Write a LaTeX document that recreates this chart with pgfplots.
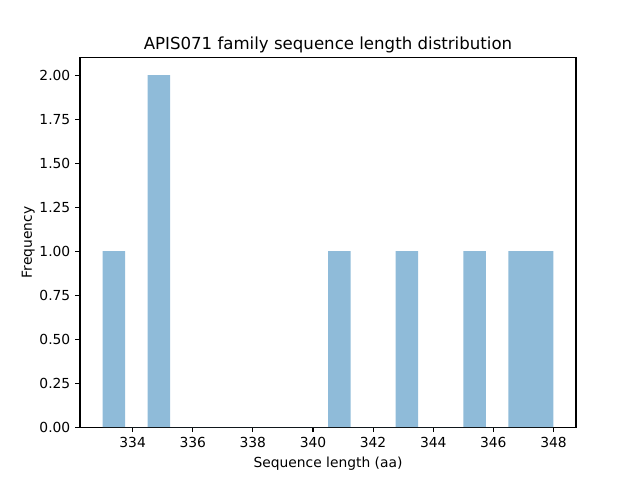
\documentclass[border=0pt]{standalone}
\usepackage{pgfplots}
\pgfplotsset{compat=1.18}
\usepackage{fontspec}
\setmainfont{DejaVu Sans}
\definecolor{histblue}{RGB}{143,187,217}
\begin{document}
\begin{tikzpicture}
\path[use as bounding box] (-0.8in,-0.528in) rectangle (5.6in,4.272in);
\begin{axis}[
  scale only axis,
  width=4.96in, height=3.696in,
  xmin=332.25, xmax=348.75,
  ymin=0, ymax=2.1,
  xtick={334,336,338,340,342,344,346,348},
  ytick={0,0.25,0.5,0.75,1,1.25,1.5,1.75,2},
  yticklabel style={/pgf/number format/.cd, fixed, fixed zerofill, precision=2},
  /pgf/number format/assume math mode=true,
  tick align=outside,
  major tick length=3.5pt,
  tick style={black, line width=0.8pt},
  axis line style={line width=0.8pt},
  xtick pos=bottom, ytick pos=left,
  ticklabel style={font=\fontsize{10}{12}\selectfont},
  label style={font=\fontsize{10}{12}\selectfont},
  ylabel style={yshift=-3.5pt},
  title style={font=\fontsize{12}{14}\selectfont, yshift=-6.5pt},
  title={APIS071 family sequence length distribution},
  xlabel={Sequence length (aa)},
  ylabel={Frequency},
]
\addplot[ybar interval, fill=histblue, draw=none] coordinates {
  (333.00,1) (333.75,0) (334.50,2) (335.25,0) (336.00,0)
  (336.75,0) (337.50,0) (338.25,0) (339.00,0) (339.75,0)
  (340.50,1) (341.25,0) (342.00,0) (342.75,1) (343.50,0)
  (344.25,0) (345.00,1) (345.75,0) (346.50,1) (347.25,1)
  (348.00,1)
};
\end{axis}
\end{tikzpicture}
\end{document}
